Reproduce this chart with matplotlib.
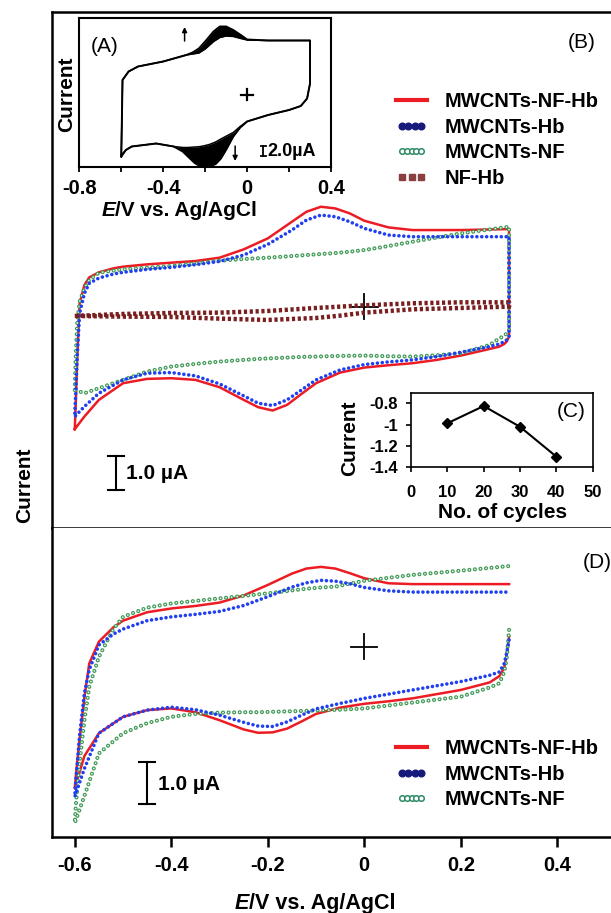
import numpy as np
import matplotlib
matplotlib.use('Agg')
import matplotlib.pyplot as plt
from matplotlib.lines import Line2D
from matplotlib.legend_handler import HandlerLine2D
from matplotlib.offsetbox import TextArea, HPacker, AnchoredOffsetbox

plt.rcParams['font.family'] = ['Liberation Sans', 'DejaVu Sans']
plt.rcParams['font.weight'] = 'bold'
plt.rcParams['lines.scale_dashes'] = False

# ---- potential grids (V vs Ag/AgCl) ----
E_FWD = [-0.6, -0.598, -0.595, -0.59, -0.58, -0.57, -0.55, -0.52, -0.5, -0.45, -0.4, -0.35, -0.3,
         -0.25, -0.2, -0.15, -0.12, -0.09, -0.06, -0.03, 0.0, 0.05, 0.1, 0.2, 0.3]
E_REV = [0.3, 0.295, 0.29, 0.28, 0.26, 0.2, 0.15, 0.1, 0.05, 0.0, -0.05, -0.1, -0.13, -0.16,
         -0.19, -0.22, -0.25, -0.3, -0.35, -0.4, -0.45, -0.5, -0.55, -0.58, -0.6]

# ---- panel B (uA) ----
b_red_up = [-3.68, -2.9, -1.6, 0.1, 0.65, 0.88, 1.03, 1.15, 1.2, 1.27, 1.32, 1.37, 1.47,
            1.72, 2.05, 2.55, 2.85, 3.0, 2.95, 2.8, 2.58, 2.38, 2.3, 2.3, 2.33]
b_red_dn = [-0.9, -1.05, -1.12, -1.2, -1.27, -1.47, -1.6, -1.7, -1.76, -1.83, -1.98, -2.3, -2.62,
            -2.95, -3.12, -3.02, -2.8, -2.42, -2.2, -2.15, -2.17, -2.3, -2.8, -3.3, -3.68]
b_blue_up = [-3.2, -2.6, -1.5, -0.2, 0.4, 0.7, 0.86, 0.98, 1.03, 1.12, 1.18, 1.26, 1.36,
             1.55, 1.87, 2.3, 2.6, 2.75, 2.7, 2.55, 2.35, 2.15, 2.1, 2.1, 2.1]
b_blue_dn = [-0.9, -1.0, -1.05, -1.12, -1.2, -1.37, -1.5, -1.6, -1.66, -1.74, -1.9, -2.2, -2.5,
             -2.8, -2.97, -2.9, -2.68, -2.32, -2.08, -1.98, -2.0, -2.2, -2.6, -3.0, -3.3]
b_green_up = [-2.5, -1.5, -0.5, 0.15, 0.55, 0.8, 1.02, 1.08, 1.12, 1.17, 1.22, 1.3, 1.38,
              1.43, 1.47, 1.52, 1.55, 1.58, 1.61, 1.65, 1.7, 1.82, 1.95, 2.2, 2.4]
b_green_dn = [-0.7, -0.8, -0.88, -0.95, -1.15, -1.4, -1.46, -1.5, -1.49, -1.47, -1.48, -1.5, -1.51,
              -1.53, -1.55, -1.57, -1.6, -1.65, -1.72, -1.8, -1.95, -2.2, -2.45, -2.6, -2.5]
E_NF = [-0.6, -0.5, -0.4, -0.3, -0.2, -0.1, -0.05, 0.0, 0.1, 0.2, 0.3]
b_nf_up = [-0.28, -0.22, -0.19, -0.18, -0.13, -0.04, 0.0, 0.04, 0.1, 0.13, 0.13]
b_nf_dn = [-0.28, -0.3, -0.31, -0.36, -0.4, -0.34, -0.27, -0.18, -0.08, -0.04, 0.0]

# ---- panel D (uA) ----
d_red_up = [-3.37, -3.1, -2.75, -2.2, -1.2, -0.4, 0.12, 0.46, 0.62, 0.82, 0.91, 0.97, 1.05,
            1.22, 1.47, 1.74, 1.86, 1.9, 1.86, 1.75, 1.63, 1.51, 1.49, 1.49, 1.49]
d_red_dn = [0.24, -0.2, -0.5, -0.7, -0.85, -1.03, -1.13, -1.23, -1.3, -1.36, -1.45, -1.6, -1.78,
            -1.95, -2.04, -2.05, -1.97, -1.75, -1.56, -1.47, -1.51, -1.67, -2.06, -2.6, -3.37]
d_blue_up = [-3.57, -3.2, -2.8, -2.1, -1.1, -0.55, 0.04, 0.3, 0.42, 0.62, 0.71, 0.77, 0.84,
             0.98, 1.19, 1.42, 1.52, 1.58, 1.56, 1.5, 1.41, 1.33, 1.3, 1.3, 1.3]
d_blue_dn = [0.16, -0.15, -0.4, -0.6, -0.68, -0.83, -0.93, -1.03, -1.13, -1.23, -1.35, -1.48, -1.63,
             -1.79, -1.9, -1.89, -1.8, -1.63, -1.5, -1.44, -1.51, -1.67, -2.06, -2.9, -3.57]
d_green_up = [-4.2, -3.8, -3.4, -2.75, -1.75, -0.95, -0.24, 0.42, 0.71, 0.93, 1.03, 1.09, 1.15,
              1.21, 1.27, 1.34, 1.38, 1.41, 1.43, 1.5, 1.57, 1.64, 1.71, 1.81, 1.92]
d_green_dn = [0.4, -0.3, -0.6, -0.87, -0.97, -1.19, -1.26, -1.33, -1.4, -1.47, -1.5, -1.52, -1.53,
              -1.54, -1.55, -1.56, -1.56, -1.57, -1.6, -1.67, -1.82, -2.06, -2.54, -3.55, -4.2]

# ---- inset A (uA), outermost and innermost cycles ----
EA_FWD = [-0.6, -0.597, -0.594, -0.565, -0.52, -0.4, -0.29, -0.26, -0.23, -0.2, -0.16, -0.13,
          -0.1, -0.066, -0.03, 0.0, 0.1, 0.2, 0.3]
a_up_out = [-12.3, -5.0, 3.0, 4.7, 5.7, 6.7, 8.0, 8.5, 9.3, 10.7, 12.7, 13.7, 13.7, 13.0, 12.0,
            11.1, 10.9, 10.9, 10.9]
a_up_in = [-12.0, -5.0, 3.0, 4.7, 5.7, 6.7, 8.0, 8.2, 8.4, 9.2, 10.7, 11.5, 11.8, 11.7, 11.3,
           11.0, 10.9, 10.9, 10.9]
EA_REV = [0.3, 0.286, 0.256, 0.2, 0.1, 0.0, -0.033, -0.066, -0.098, -0.125, -0.15, -0.18, -0.209,
          -0.23, -0.25, -0.28, -0.307, -0.35, -0.434, -0.55, -0.578, -0.6]
a_dn_out = [2.3, -0.7, -2.2, -3.0, -4.0, -5.3, -6.5, -8.3, -10.8, -12.7, -13.8, -14.3, -14.3,
            -14.1, -13.6, -12.4, -11.3, -10.3, -9.7, -10.3, -11.0, -12.3]
a_dn_in = [2.3, -0.7, -2.2, -3.0, -4.0, -5.3, -6.3, -7.5, -8.2, -8.8, -9.4, -9.9, -10.2,
           -10.35, -10.4, -10.5, -10.5, -10.3, -9.7, -10.3, -11.0, -12.0]

# ---- inset C ----
cycles = [10, 20, 30, 40]
peak_current = [-0.987, -0.825, -1.02, -1.30]

names = ["MWCNTs-NF-Hb", "MWCNTs-Hb", "MWCNTs-NF", "NF-Hb"]
RED = '#ec1c24'
BLUE = '#1f3ff0'
GREEN = '#3f9a55'
BROWN = '#7a1f1f'

W, H = 611, 913
fig = plt.figure(figsize=(W / 100, H / 100), dpi=100)


def fbox(x0, y0, x1, y1):
    return [x0 / W, 1 - y1 / H, (x1 - x0) / W, (y1 - y0) / H]


ax_b = fig.add_axes(fbox(52.3, 12, 629.7, 527.7))
ax_d = fig.add_axes(fbox(52.3, 527.7, 629.7, 837))
ax_a = fig.add_axes(fbox(79.3, 18.3, 331, 167.3))
ax_c = fig.add_axes(fbox(411, 392.7, 592.7, 467.3))


def cv(ax, e, i, kind):
    if kind == 'red':
        ax.plot(e, i, color=RED, lw=1.8, solid_joinstyle='round', zorder=2)
    elif kind == 'blue':
        ax.plot(e, i, color=BLUE, lw=2.6, ls=(0, (0.01, 3.5)), dash_capstyle='round', zorder=4)
    elif kind == 'green':
        ax.plot(e, i, color=GREEN, lw=3.0, ls=(0, (0.01, 4.0)), dash_capstyle='round', zorder=3)
        ax.plot(e, i, color='white', lw=1.2, ls=(0, (0.01, 4.0)), dash_capstyle='round', zorder=3)
    else:
        ax.plot(e, i, color=BROWN, lw=3.2, ls=(0, (2.3, 1.9)), dash_capstyle='butt', zorder=5)


# panel B: closed loops
for up, dn, kind in [(b_red_up, b_red_dn, 'red'), (b_green_up, b_green_dn, 'green'),
                     (b_blue_up, b_blue_dn, 'blue')]:
    cv(ax_b, E_FWD + E_REV + [E_FWD[0]], up + dn + [up[0]], kind)
cv(ax_b, E_NF + E_NF[::-1], b_nf_up + b_nf_dn[::-1], 'brown')

# panel D: reverse sweep then forward sweep
for up, dn, kind in [(d_red_up, d_red_dn, 'red'), (d_green_up, d_green_dn, 'green'),
                     (d_blue_up, d_blue_dn, 'blue')]:
    cv(ax_d, E_REV + E_FWD, dn + up, kind)

XL = (-0.6466, 0.55)
for ax, yl in [(ax_b, (-6.64, 8.85)), (ax_d, (-4.531, 2.833))]:
    ax.set_xlim(*XL)
    ax.set_ylim(*yl)
    ax.set_yticks([])
    for s in ax.spines.values():
        s.set_linewidth(1.8)

xt = [-0.6, -0.4, -0.2, 0, 0.2, 0.4]
ax_b.set_xticks(xt)
ax_b.tick_params(axis='x', direction='out', length=7.5, width=1.8, labelbottom=False)
ax_d.set_xticks(xt)
ax_d.set_xticklabels(['-0.6', '-0.4', '-0.2', '0', '0.2', '0.4'])
ax_d.tick_params(axis='x', direction='out', length=7.5, width=1.8, labelsize=14.5, pad=6)
ax_d.spines['top'].set_visible(False)

# origin crosses
ax_b.plot([-0.029, 0.029], [0, 0], color='k', lw=1.3)
ax_b.plot([0, 0], [-0.38, 0.38], color='k', lw=1.3)
ax_d.plot([-0.027, 0.027], [0, 0], color='k', lw=1.3)
ax_d.plot([0, 0], [-0.3, 0.3], color='k', lw=1.3)


def scalebar(ax, x, y0, y1, half, lw=1.5):
    ax.plot([x, x], [y0, y1], color='k', lw=lw)
    ax.plot([x - half, x + half], [y0, y0], color='k', lw=lw)
    ax.plot([x - half, x + half], [y1, y1], color='k', lw=lw)


scalebar(ax_b, -0.515, -5.5, -4.5, 0.0166)
ax_b.text(-0.494, -5.0, u'1.0 \u00b5A', fontsize=15, va='center', ha='left')
scalebar(ax_d, -0.45, -3.75, -2.75, 0.0166)
ax_d.text(-0.428, -3.28, u'1.0 \u00b5A', fontsize=15, va='center', ha='left')


def handles(n):
    hs = [Line2D([], [], color=RED, lw=3),
          Line2D([], [], ls='None', marker='o', ms=4.8, color='#161a7a'),
          Line2D([], [], ls='None', marker='o', ms=4, mfc='white', mec='#2f8a66', mew=1.1),
          Line2D([], [], ls='None', marker='s', ms=4.8, color='#8a4040')][:n]
    hm = {hs[1]: HandlerLine2D(numpoints=4), hs[2]: HandlerLine2D(numpoints=5)}
    if n > 3:
        hm[hs[3]] = HandlerLine2D(numpoints=3)
    return hs, hm


for ax, n, ytop in [(ax_b, 4, 92), (ax_d, 3, 739)]:
    hs, hm = handles(n)
    ax.legend(hs, names[:n], handler_map=hm, loc='upper left',
              bbox_to_anchor=(396 / W, 1 - ytop / H), bbox_transform=fig.transFigure,
              frameon=False, prop=dict(size=14.5, weight='bold'), handlelength=1.55,
              handletextpad=0.85, labelspacing=0.33, borderpad=0, borderaxespad=0)

# inset A
ax_a.fill_between(EA_FWD, a_up_in, a_up_out, color='k', lw=0)
ax_a.fill_between(EA_REV, a_dn_in, a_dn_out, color='k', lw=0)
ax_a.plot(EA_FWD + EA_REV + [EA_FWD[0]], a_up_out + a_dn_out + [a_up_out[0]], color='k', lw=1.4)
ax_a.plot(EA_FWD + EA_REV, a_up_in + a_dn_in, color='k', lw=1.1)
ax_a.set_xlim(-0.8, 0.4)
ax_a.set_ylim(-14.46, 15.34)
ax_a.set_xticks([-0.8, -0.4, 0, 0.4])
ax_a.set_xticklabels(['-0.8', '-0.4', '0', '0.4'])
ax_a.set_xticks([-0.6, -0.2, 0.2], minor=True)
ax_a.set_yticks([])
ax_a.tick_params(axis='x', which='both', direction='out', length=3.6, width=1.3,
                 labelsize=14.5, pad=5)
for s in ax_a.spines.values():
    s.set_linewidth(1.5)
ax_a.plot([-0.03, 0.03], [0, 0], color='k', lw=1.6)
ax_a.plot([0, 0], [-1.1, 1.1], color='k', lw=1.6)
ax_a.annotate('', xy=(-0.298, 13.6), xytext=(-0.298, 10.8),
              arrowprops=dict(arrowstyle='-|>', color='k', lw=1.1, mutation_scale=7,
                              shrinkA=0, shrinkB=0))
ax_a.annotate('', xy=(-0.057, -13.2), xytext=(-0.057, -10.2),
              arrowprops=dict(arrowstyle='-|>', color='k', lw=1.1, mutation_scale=7,
                              shrinkA=0, shrinkB=0))
scalebar(ax_a, 0.078, -12.3, -10.3, 0.013, lw=1.3)
ax_a.text(0.098, -11.3, u'2.0\u00b5A', fontsize=13, va='center', ha='left')

# inset C
ax_c.plot(cycles, peak_current, '-D', color='k', lw=1.5, ms=5.5)
ax_c.set_xlim(0, 50)
ax_c.set_ylim(-1.4, -0.7)
ax_c.set_xticks([0, 10, 20, 30, 40, 50])
ax_c.set_yticks([-1.4, -1.2, -1.0, -0.8])
ax_c.set_yticklabels(['-1.4', '-1.2', '-1', '-0.8'])
ax_c.tick_params(axis='x', direction='out', length=3.5, width=1.2, labelsize=12, pad=9)
ax_c.tick_params(axis='y', direction='out', length=3.5, width=1.2, labelsize=12, pad=6)
for s in ax_c.spines.values():
    s.set_linewidth(1.2)


def elabel(x, y, size):
    t1 = TextArea('E', textprops=dict(size=size, weight='bold', style='italic'))
    t2 = TextArea('/V vs. Ag/AgCl', textprops=dict(size=size, weight='bold'))
    box = HPacker(children=[t1, t2], align='baseline', pad=0, sep=0)
    ab = AnchoredOffsetbox(loc='center', child=box, bbox_to_anchor=(x / W, 1 - y / H),
                           bbox_transform=fig.transFigure, frameon=False, pad=0, borderpad=0)
    ab.set_clip_on(False)
    ax_d.add_artist(ab)


elabel(179, 211, 15)
elabel(315, 903, 15.5)

fig.text(25 / W, 1 - 485 / H, 'Current', rotation=90, fontsize=15, ha='center', va='center')
fig.text(67 / W, 1 - 94 / H, 'Current', rotation=90, fontsize=15, ha='center', va='center')
fig.text(350 / W, 1 - 438 / H, 'Current', rotation=90, fontsize=15, ha='center', va='center')
fig.text(503 / W, 1 - 513 / H, 'No. of cycles', fontsize=15, ha='center', va='center')

for lab, x, y in [('(A)', 105, 47), ('(B)', 582, 43), ('(C)', 571, 411.5), ('(D)', 597, 562)]:
    fig.text(x / W, 1 - y / H, lab, fontsize=15, fontweight='normal', ha='center', va='center')

fig.savefig('out.png', dpi=100)
